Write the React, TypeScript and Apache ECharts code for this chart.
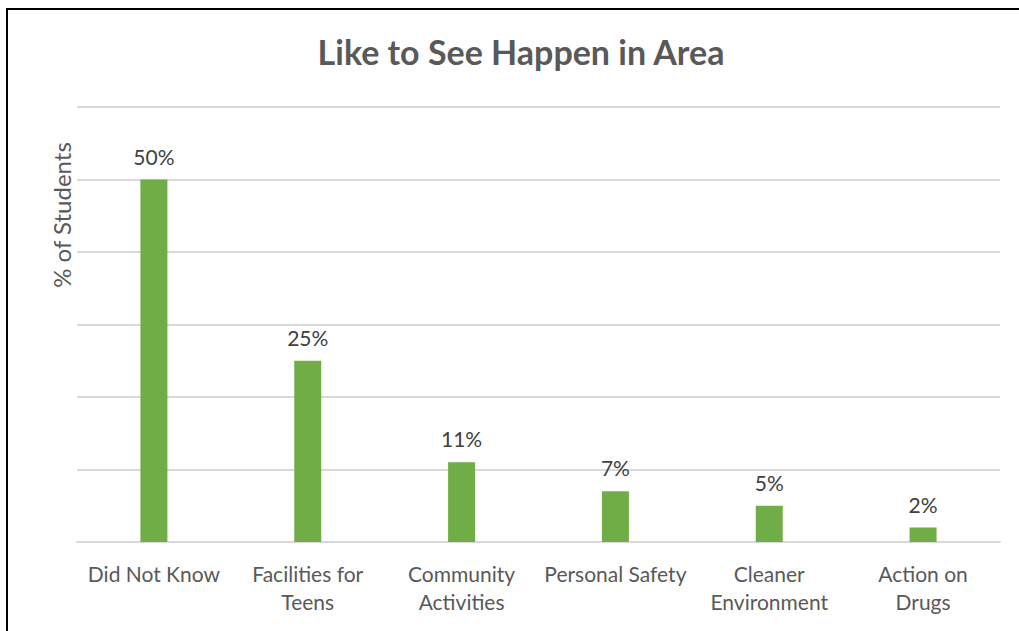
import React, { useEffect, useRef } from "react";
import * as echarts from "echarts";

const categories = [
  "Did Not Know",
  "Facilities for\nTeens",
  "Community\nActivities",
  "Personal Safety",
  "Cleaner\nEnvironment",
  "Action on\nDrugs",
];
const values = [50, 25, 11, 7, 5, 2];
const titleText = "Like to See Happen in Area";
const yAxisName = "% of Students";

export default function App() {
  const ref = useRef<HTMLDivElement>(null);
  useEffect(() => {
    document.body.style.margin = "0";
    document.body.style.overflow = "hidden";
    const chart = echarts.init(ref.current!, null, { renderer: "svg" });
    const font = "Lato, 'Open Sans', sans-serif";
    chart.setOption({
      animation: false,
      backgroundColor: "#ffffff",
      title: {
        text: titleText,
        left: 516,
        top: 29,
        textAlign: "center",
        textStyle: { fontFamily: font, fontSize: 34, fontWeight: "bold", color: "#595959" },
      },
      graphic: [
        { type: "line", shape: { x1: 7, y1: 9, x2: 1019, y2: 9 }, style: { stroke: "#000", lineWidth: 2 } },
        { type: "line", shape: { x1: 7, y1: 8, x2: 7, y2: 631 }, style: { stroke: "#000", lineWidth: 2 } },
        {
          type: "text",
          x: 61,
          y: 215,
          rotation: Math.PI / 2,
          style: {
            text: yAxisName,
            fontFamily: font,
            fontSize: 24,
            fill: "#595959",
            align: "center",
            verticalAlign: "middle",
          },
        },
      ],
      grid: { left: 77, right: 19, top: 107, bottom: 89 },
      xAxis: {
        type: "category",
        data: categories,
        axisTick: { show: false },
        axisLine: { lineStyle: { color: "#d9d9d9", width: 2 } },
        axisLabel: {
          fontFamily: font,
          fontSize: 21,
          color: "#595959",
          lineHeight: 28,
          margin: 17,
          interval: 0,
        },
      },
      yAxis: {
        type: "value",
        min: 0,
        max: 60,
        interval: 10,
        axisLabel: { show: false },
        axisLine: { show: false },
        axisTick: { show: false },
        splitLine: { lineStyle: { color: "#d9d9d9", width: 2 } },
      },
      series: [
        {
          type: "bar",
          data: values,
          barWidth: 27,
          itemStyle: { color: "#70ad47" },
          label: {
            show: true,
            position: "top",
            distance: 13,
            formatter: "{c}%",
            fontFamily: font,
            fontSize: 21,
            color: "#404040",
          },
        },
      ],
    });
    return () => chart.dispose();
  }, []);
  return <div ref={ref} style={{ position: "fixed", left: 0, top: 0, width: 1019, height: 631 }} />;
}
